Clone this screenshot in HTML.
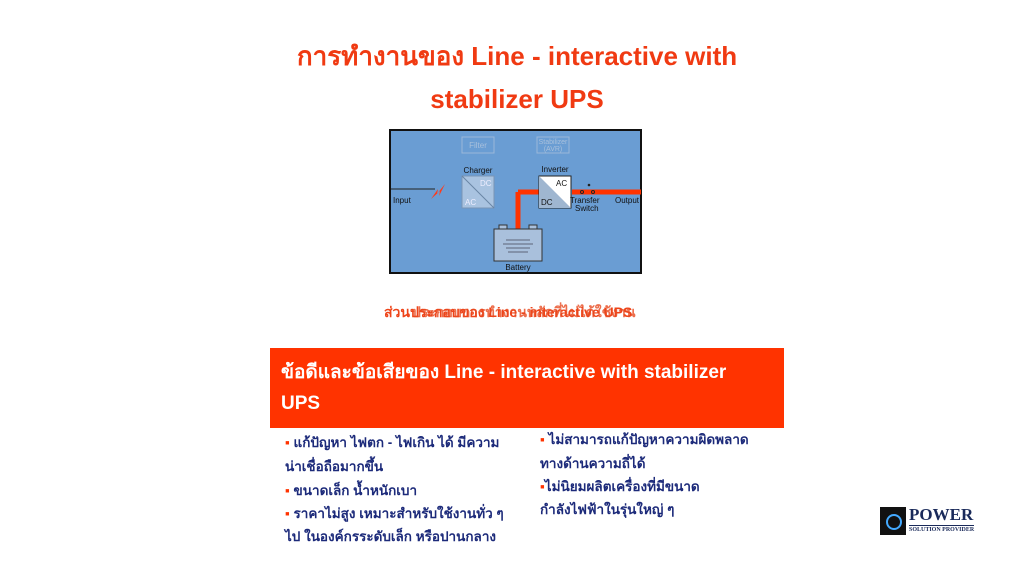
<!DOCTYPE html>
<html><head><meta charset="utf-8"><style>
body{margin:0;width:1024px;height:576px;background:#fff;position:relative;overflow:hidden;font-family:"Liberation Sans","Noto Sans CJK SC",sans-serif}
.a{position:absolute;white-space:nowrap}
.t{color:#f03a12;font-weight:bold;font-size:26px;left:0;width:1034px;text-align:center}
.b{color:#1c2a7a;font-weight:bold;font-size:13.5px}
.s{color:#ff3300}
</style></head><body>
<div class="a t" style="top:36px">การทำงานของ Line - interactive with</div>
<div class="a t" style="top:84px">stabilizer UPS</div>

<svg class="a" style="left:389px;top:129px" width="253" height="145" viewBox="0 0 253 145" font-family="Liberation Sans" font-size="8">
<rect x="1" y="1" width="251" height="143" fill="#6a9dd3" stroke="#111" stroke-width="2"/>
<rect x="73" y="8" width="32" height="16" fill="none" stroke="#9bb8d8"/><text x="89" y="19" text-anchor="middle" fill="#a8c0dc">Filter</text>
<rect x="148" y="8" width="32" height="16" fill="none" stroke="#9bb8d8"/><text x="164" y="15" text-anchor="middle" fill="#a8c0dc" font-size="7">Stabilizer</text><text x="164" y="22" text-anchor="middle" fill="#a8c0dc" font-size="7">(AVR)</text>
<line x1="2" y1="60" x2="46" y2="60" stroke="#222"/>
<path d="M42 70 L49 60 L48 65 L56 55 L50 67 L51 62 Z" fill="#ff3a1a"/>
<text x="4" y="74" fill="#111">Input</text>
<text x="89" y="44" text-anchor="middle" fill="#111">Charger</text>
<rect x="73" y="47" width="32" height="32" fill="#a9c3e0" stroke="#7a95b5"/><line x1="73" y1="47" x2="105" y2="79" stroke="#6a85a5"/>
<text x="91" y="57" fill="#eef">DC</text><text x="76" y="76" fill="#eef">AC</text>
<path d="M129 63 V106 M129 63 H150 M183 63 H252" stroke="#ff3300" stroke-width="5" fill="none"/>
<text x="166" y="43" text-anchor="middle" fill="#111">Inverter</text>
<rect x="150" y="47" width="32" height="32" fill="#fff" stroke="#222"/><path d="M150 47 L182 79 L150 79 Z" fill="#9fb6d0"/>
<text x="167" y="57" fill="#111">AC</text><text x="152" y="76" fill="#111">DC</text>
<text x="181" y="74" fill="#111">Transfer</text><text x="186" y="82" fill="#111">Switch</text>
<text x="226" y="74" fill="#111">Output</text>
<circle cx="193" cy="63" r="1.5" fill="none" stroke="#222"/><circle cx="204" cy="63" r="1.5" fill="none" stroke="#222"/><circle cx="200" cy="56" r="1.3" fill="#222"/>
<rect x="105" y="100" width="48" height="32" fill="#a9c0dc" stroke="#333"/>
<rect x="110" y="96" width="8" height="4" fill="#a9c0dc" stroke="#333"/><rect x="140" y="96" width="8" height="4" fill="#a9c0dc" stroke="#333"/>
<path d="M117 111 H141 M114 115 H144 M117 119 H141 M119 123 H139" stroke="#445" stroke-width=".8"/>
<text x="129" y="141" text-anchor="middle" fill="#111">Battery</text>
</svg>

<div class="a" style="left:384px;top:302px;font-size:14px;font-weight:bold;color:#ee4419">ส่วนประกอบของ Line - interactive UPS</div>
<div class="a" style="left:412px;top:302px;font-size:14px;font-weight:bold;color:#e84a20;opacity:.8">ประกอบการทำงานหลักที่ไม่ได้ใช้งาน</div>

<div class="a" style="left:270px;top:348px;width:514px;height:80px;background:#ff3300"></div>
<div class="a" style="left:281px;top:357px;color:#fff;font-size:19px;font-weight:bold">ข้อดีและข้อเสียของ Line - interactive with stabilizer</div>
<div class="a" style="left:281px;top:393px;color:#fff;font-size:19px;font-weight:bold">UPS</div>

<div class="a b" style="left:285px;top:431px"><span class="s">▪</span> แก้ปัญหา ไฟตก - ไฟเกิน ได้ มีความ</div>
<div class="a b" style="left:285px;top:455px">น่าเชื่อถือมากขึ้น</div>
<div class="a b" style="left:285px;top:479px"><span class="s">▪</span> ขนาดเล็ก น้ำหนักเบา</div>
<div class="a b" style="left:285px;top:502px"><span class="s">▪</span> ราคาไม่สูง เหมาะสำหรับใช้งานทั่ว ๆ</div>
<div class="a b" style="left:285px;top:525px">ไป ในองค์กรระดับเล็ก หรือปานกลาง</div>
<div class="a b" style="left:540px;top:428px"><span class="s">▪</span> ไม่สามารถแก้ปัญหาความผิดพลาด</div>
<div class="a b" style="left:540px;top:452px">ทางด้านความถี่ได้</div>
<div class="a b" style="left:540px;top:475px"><span class="s">▪</span>ไม่นิยมผลิตเครื่องที่มีขนาด</div>
<div class="a b" style="left:540px;top:498px">กำลังไฟฟ้าในรุ่นใหญ่ ๆ</div>

<div class="a" style="left:880px;top:507px;width:26px;height:28px;background:#111"><div style="position:absolute;left:6px;top:7px;width:12px;height:12px;border:2px solid #4af;border-radius:50%"></div></div>
<div class="a" style="left:909px;top:505px;font-family:'Liberation Serif',serif;font-weight:bold;font-size:17px;color:#1a2a5a">POWER</div>
<div class="a" style="left:909px;top:525px;font-family:'Liberation Serif',serif;font-weight:bold;font-size:6px;color:#1a2a5a;border-top:1px solid #1a2a5a;padding-top:1px">SOLUTION PROVIDER</div>
</body></html>
